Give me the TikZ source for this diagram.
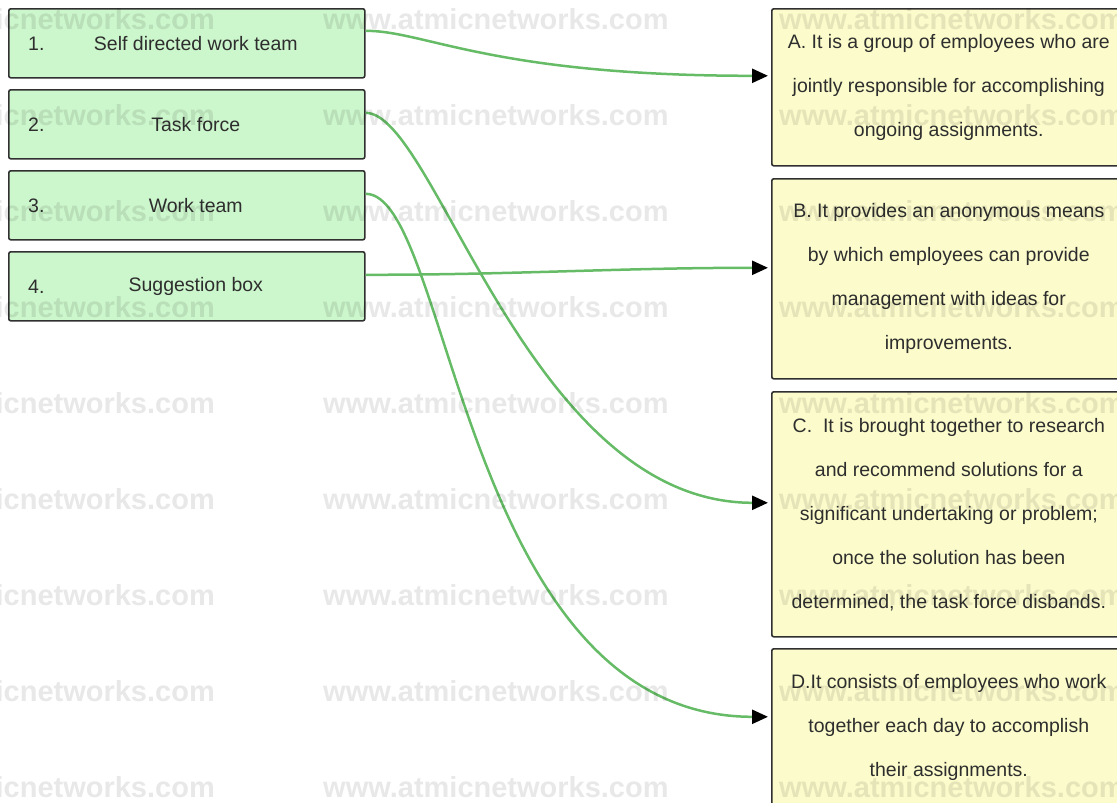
\documentclass[tikz,border=0pt]{standalone}
\usepackage{fontspec}
\setmainfont{Liberation Sans}
\usetikzlibrary{arrows.meta}
\definecolor{boxgreen}{HTML}{CCF6CC}
\definecolor{boxyellow}{HTML}{FBFBCB}
\definecolor{linegreen}{HTML}{66BB66}
\definecolor{edgegray}{HTML}{303030}
\definecolor{txtgray}{HTML}{2E2E2E}
\begin{document}
\begin{tikzpicture}[x=1pt,y=-1pt,
  lbox/.style={draw=edgegray,line width=1.6pt,fill=boxgreen,rounded corners=2pt,
    minimum width=356pt,minimum height=69pt,inner sep=0pt,anchor=north west},
  rbox/.style={draw=edgegray,line width=1.6pt,fill=boxyellow,rounded corners=2pt,
    minimum width=354pt,inner sep=0pt,anchor=north west,align=center,
    text=txtgray,font=\fontsize{19.5}{44}\selectfont},
  ltext/.style={text=txtgray,font=\fontsize{19.5}{24}\selectfont,inner sep=0pt},
  conn/.style={draw=linegreen,line width=2.5pt,
    -{Triangle[length=16pt,width=14pt,color=black,fill=black]}},
  wm/.style={text=black,text opacity=0.09,font=\fontsize{29}{30}\selectfont\bfseries,inner sep=0pt}
]
\useasboundingbox (0,0) rectangle (1117,803);

% left boxes
\node[lbox] (b1) at (8,8) {};
\node[lbox] (b2) at (8,89) {};
\node[lbox] (b3) at (8,170) {};
\node[lbox] (b4) at (8,251) {};
\node[ltext,anchor=west] (n1) at ([xshift=20pt]b1.west) {1.};
\node[ltext,anchor=west] (n2) at ([xshift=20pt]b2.west) {2.};
\node[ltext,anchor=west] (n3) at ([xshift=20pt]b3.west) {3.};
\node[ltext,anchor=west] (n4) at ([xshift=20pt]b4.west) {4.};
\node[ltext] (t1) at ([xshift=9pt]b1.center) {Self directed work team};
\node[ltext] (t2) at ([xshift=9pt]b2.center) {Task force};
\node[ltext] (t3) at ([xshift=9pt]b3.center) {Work team};
\node[ltext] (t4) at ([xshift=9pt]b4.center) {Suggestion box};

% right boxes
\node[rbox,minimum height=157pt] (rA) at (771,8)
  {A. It is a group of employees who are\\jointly responsible for accomplishing\\ongoing assignments.};
\node[rbox,minimum height=200pt] (rB) at (771,178)
  {B. It provides an anonymous means\\by which employees can provide\\management with ideas for\\improvements.};
\node[rbox,minimum height=245pt] (rC) at (771,391)
  {C.\ \ It is brought together to research\\and recommend solutions for a\\significant undertaking or problem;\\once the solution has been\\determined, the task force disbands.};
\node[rbox,minimum height=158pt] (rD) at (771,648)
  {D.It consists of employees who work\\together each day to accomplish\\their assignments.};

% connectors
\draw[conn] ([yshift=12.5pt]b1.east) .. controls +(60,0) and +(-276,0) .. ([xshift=-3pt,yshift=11.5pt]rA.west);
\draw[conn] ([yshift=11.5pt]b2.east) .. controls +(70,0) and +(-240,0) .. ([xshift=-3pt,yshift=11.5pt]rC.west);
\draw[conn] ([yshift=11.5pt]b3.east) .. controls +(85,0) and +(-305,0) .. ([xshift=-3pt,yshift=11pt]rD.west);
\draw[conn] ([yshift=11.5pt]b4.east) .. controls +(150,0) and +(-150,0) .. ([xshift=-3pt,yshift=11pt]rB.west);

% watermarks
\foreach \yy in {29,125,...,797}{
  \node[wm,anchor=base east] (wl\yy) at (215,\yy) {www.atmicnetworks.com};
  \node[wm,anchor=base west] (wm\yy) at (323,\yy) {www.atmicnetworks.com};
  \node[wm,anchor=base west] (wr\yy) at (779,\yy) {www.atmicnetworks.com};
}
\end{tikzpicture}
\end{document}
